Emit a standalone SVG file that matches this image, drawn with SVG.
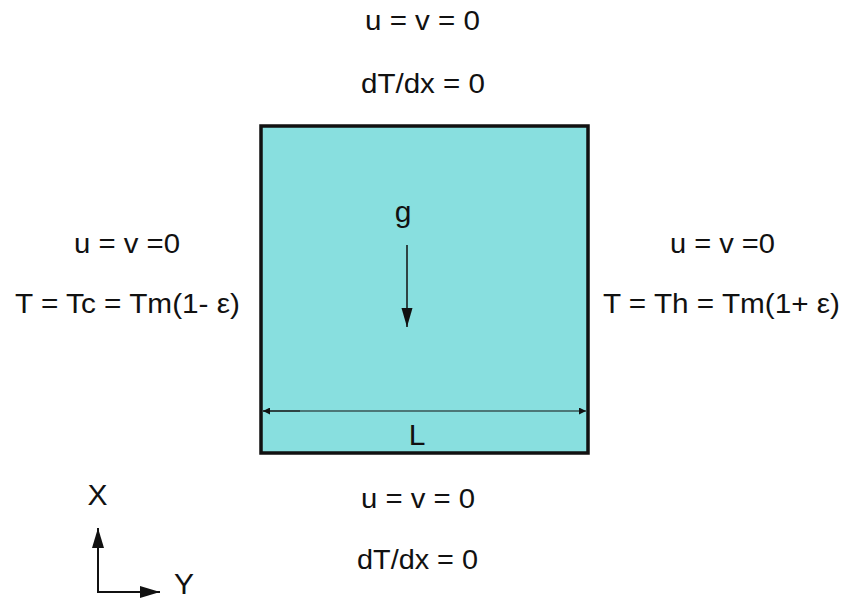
<svg xmlns="http://www.w3.org/2000/svg" width="844" height="601" viewBox="0 0 844 601">
<style>
text{font-family:"Liberation Sans",Arial,sans-serif;font-size:27px;fill:#111;text-anchor:middle}
text.big{font-size:30px}
.ln{stroke:#111;fill:none}
</style>
<defs>
<marker id="ah" viewBox="0 0 10 10" refX="10" refY="5" markerWidth="7" markerHeight="7" markerUnits="userSpaceOnUse" orient="auto"><path d="M0,0L10,5L0,10z" fill="#111"/></marker>
<marker id="ahb" viewBox="0 0 10 10" refX="10" refY="5" markerWidth="20" markerHeight="20" markerUnits="userSpaceOnUse" orient="auto"><path d="M0,2L10,5L0,8z" fill="#111"/></marker>
<marker id="ahg" viewBox="0 0 10 10" refX="10" refY="5" markerWidth="19" markerHeight="19" markerUnits="userSpaceOnUse" orient="auto"><path d="M0,2.1L10,5L0,7.9z" fill="#111"/></marker>
</defs>
<rect width="844" height="601" fill="#fff"/>
<g id="cavity">
<rect x="261" y="126" width="327" height="327" fill="#88dfdf" stroke="#111" stroke-width="3.5"/>
</g>
<g id="connectors">
<line class="ln" x1="407" y1="245" x2="407" y2="327" stroke-width="1.5" marker-end="url(#ahg)"/>
<line class="ln" x1="300" y1="411" x2="263" y2="411" stroke-width="1.2" marker-end="url(#ah)"/>
<line class="ln" x1="263" y1="411" x2="586" y2="411" stroke-width="1.2" marker-end="url(#ah)"/>
<line class="ln" x1="98" y1="592" x2="98" y2="528" stroke-width="2" marker-end="url(#ahb)"/>
<line class="ln" x1="97" y1="592" x2="160" y2="592" stroke-width="2" marker-end="url(#ahb)"/>
</g>
<g id="labels">
<text class="big" x="403" y="222">g</text>
<text class="big" x="417" y="445">L</text>
<text x="422.5" y="30" textLength="115" lengthAdjust="spacingAndGlyphs">u = v = 0</text>
<text x="423" y="93" textLength="124" lengthAdjust="spacingAndGlyphs">dT/dx = 0</text>
<text x="418" y="508" textLength="114" lengthAdjust="spacingAndGlyphs">u = v = 0</text>
<text x="417.5" y="569" textLength="121" lengthAdjust="spacingAndGlyphs">dT/dx = 0</text>
<text x="127" y="253" textLength="106" lengthAdjust="spacingAndGlyphs">u = v =0</text>
<text x="127.5" y="313" textLength="225" lengthAdjust="spacingAndGlyphs">T = Tc = Tm(1- ε)</text>
<text x="722.5" y="253" textLength="105" lengthAdjust="spacingAndGlyphs">u = v =0</text>
<text x="721.5" y="313" textLength="237" lengthAdjust="spacingAndGlyphs">T = Th = Tm(1+ ε)</text>
<text class="big" x="97.5" y="505">X</text>
<text class="big" x="184" y="594">Y</text>
</g>
</svg>
